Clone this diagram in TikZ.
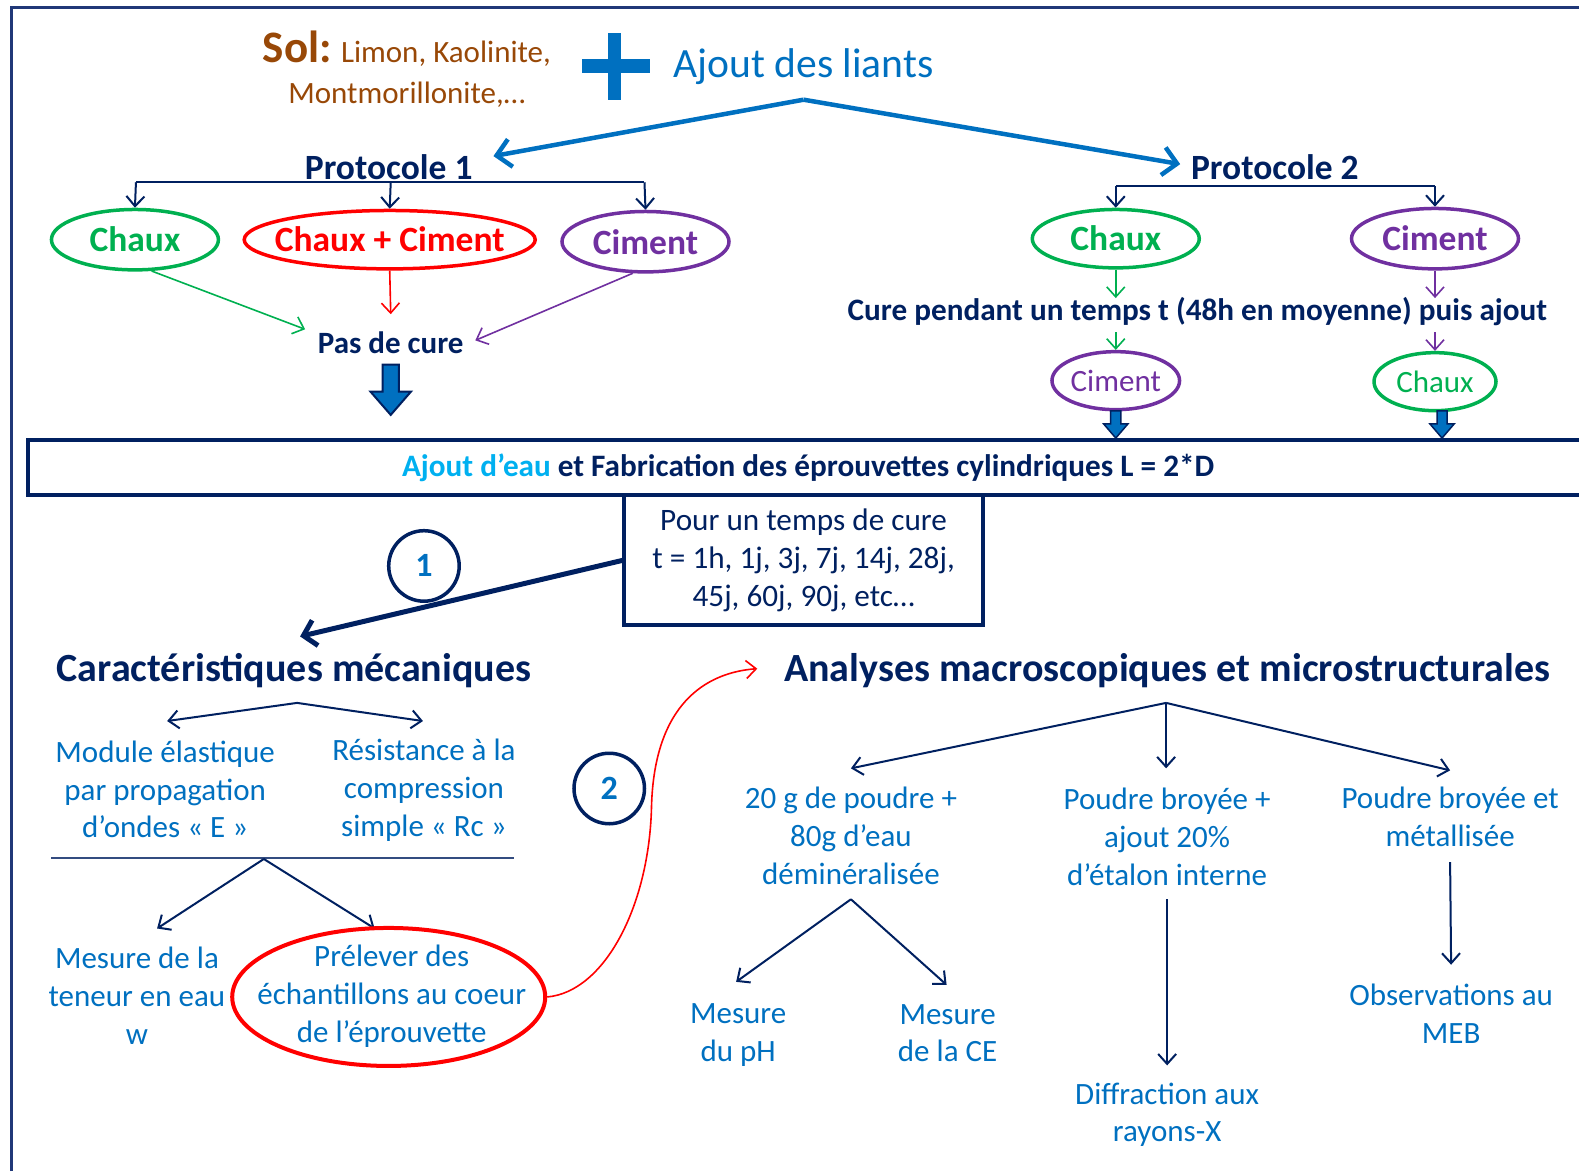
\documentclass[tikz,border=0pt]{standalone}
\usepackage{fontspec}
\setmainfont{Carlito}
\usetikzlibrary{arrows.meta,shapes.geometric}
\definecolor{navy}{RGB}{0,32,96}
\definecolor{bleu}{RGB}{0,112,192}
\definecolor{cyanb}{RGB}{0,176,240}
\definecolor{vert}{RGB}{0,176,80}
\definecolor{violet}{RGB}{112,48,160}
\definecolor{rouge}{RGB}{255,0,0}
\definecolor{brun}{RGB}{152,72,7}
\definecolor{cadre}{RGB}{32,56,120}
\begin{document}
\begin{tikzpicture}[x=1.00702pt,y=-1.00702pt,
  body/.style={font=\fontsize{31}{37.8}\selectfont, text=bleu, align=center, inner sep=0pt},
  titre/.style={font=\bfseries\fontsize{40}{46}\selectfont, text=navy, inner sep=0pt},
  proto/.style={font=\bfseries\fontsize{35.5}{40}\selectfont, text=navy, inner sep=0pt},
  ell/.style={ellipse, line width=3.5pt, inner sep=0pt},
  bigell/.style={ell, font=\bfseries\fontsize{35.5}{40}\selectfont},
  smallell/.style={ell, font=\fontsize{31}{36}\selectfont, minimum width=122pt, minimum height=58pt},
  tip/.style={-{Straight Barb[length=10pt,width=18pt]}},
  conn/.style={draw=navy, line width=2pt, tip},
  thinconn/.style={line width=1.6pt, tip},
  bluearrow/.style={draw=bleu, line width=4.5pt, -{Straight Barb[length=14pt,width=28pt]}},
  blockarrow/.style={fill=bleu, draw=navy, line width=2pt, line join=miter},
  numcircle/.style={circle, draw=navy, line width=3.5pt, minimum size=70.5pt, inner sep=0pt, text=bleu, font=\bfseries\fontsize{34}{34}\selectfont}
]
\useasboundingbox (0,0) rectangle (1568,1163);
% frame
\draw[cadre, line width=3pt] (11,1163) -- (11,7) -- (1568,7);

% top
\node[inner sep=0pt, anchor=base, text=brun] (sol) at (404,62) {{\bfseries\fontsize{45}{45}\selectfont Sol:}\fontsize{31}{36}\selectfont{} Limon, Kaolinite,};
\node[inner sep=0pt, anchor=base, text=brun, font=\fontsize{31}{36}\selectfont] (mont) at (404,103) {Montmorillonite,…};
\fill[bleu] (604,33) rectangle (617,99);
\fill[bleu] (578,59) rectangle (645,72);
\coordinate (plus) at (610,66);
\node[inner sep=0pt, text=bleu, font=\fontsize{41.6}{48}\selectfont] (liants) at (798,66) {Ajout des liants};
\coordinate (apex) at (798,99);

\node[proto] (p1) at (386,166) {Protocole 1};
\node[proto] (p2) at (1266,166) {Protocole 2};
\coordinate (p1tip) at (490,155);
\coordinate (p2tip) at (1172,163);
\draw[bluearrow] (apex) -- (p1tip);
\draw[bluearrow] (apex) -- (p2tip);

% protocole 1
\node[bigell, draw=vert, text=vert, minimum width=167pt, minimum height=60.4pt] (c1) at (134,238) {Chaux};
\node[ell, draw=rouge, minimum width=291pt, minimum height=58.4pt,
  label={[inner sep=0pt, text=rouge, font=\bfseries\fontsize{35.5}{40}\selectfont]center:Chaux + Ciment}] (cc1) at (387,238) {};
\node[bigell, draw=violet, text=violet, minimum width=167pt, minimum height=60.4pt] (ci1) at (641,240) {Ciment};
\coordinate (b1l) at (135,181);
\coordinate (b1m) at (388,181);
\coordinate (b1r) at (640,181);
\draw[navy, line width=2pt] (b1l) -- (b1r);
\draw[conn] (b1l) -- (c1.north);
\draw[conn] (b1m) -- (cc1.north);
\draw[conn] (b1r) -- (ci1.north);

\node[inner sep=0pt, text=navy, font=\bfseries\fontsize{31}{36}\selectfont] (pas) at (388,340) {Pas de cure};
\coordinate (pasl) at (303,327);
\coordinate (pasm) at (388,312);
\coordinate (pasr) at (472,338);
\draw[thinconn, vert] (c1.-62) -- (pasl);
\draw[thinconn, rouge] (cc1.south) -- (pasm);
\draw[thinconn, violet] (ci1.-112) -- (pasr);
\coordinate (ba1) at (388,362);
\draw[blockarrow] (ba1) ++(-8,0) -- ++(16,0) -- ++(0,27) -- ++(12,0) -- ++(-20,23) -- ++(-20,-23) -- ++(12,0) -- cycle;

% protocole 2
\node[bigell, draw=vert, text=vert, minimum width=167pt, minimum height=58.4pt] (c2) at (1108,237) {Chaux};
\node[bigell, draw=violet, text=violet, minimum width=167pt, minimum height=60.4pt] (ci2) at (1425,237) {Ciment};
\coordinate (b2l) at (1108,185);
\coordinate (b2r) at (1425,185);
\draw[navy, line width=2pt] (b2l) -- (b2r);
\draw[conn] (b2l) -- (c2.north);
\draw[conn] (b2r) -- (ci2.north);
\node[inner sep=0pt, text=navy, font=\bfseries\fontsize{31.2}{36}\selectfont] (cure) at (1189,309) {Cure pendant un temps t (48h en moyenne) puis ajout};
\coordinate (cu1a) at (1108,296);
\coordinate (cu2a) at (1425,296);
\coordinate (cu1b) at (1108,330);
\coordinate (cu2b) at (1425,330);
\node[smallell, draw=violet, text=violet] (ci3) at (1108,378) {Ciment};
\node[smallell, draw=vert, text=vert] (c3) at (1425,379) {Chaux};
\draw[thinconn, vert] (c2.south) -- (cu1a);
\draw[thinconn, violet] (ci2.south) -- (cu2a);
\draw[thinconn, vert] (cu1b) -- (ci3.north);
\draw[thinconn, violet] (cu2b) -- (c3.north);
\coordinate (ba2) at (1108,408);
\coordinate (ba3) at (1432,408);
\draw[blockarrow, line width=1.5pt] (ba2) ++(-5,0) -- ++(10,0) -- ++(0,13) -- ++(7,0) -- ++(-12,14) -- ++(-12,-14) -- ++(7,0) -- cycle;
\draw[blockarrow, line width=1.5pt] (ba3) ++(-5,0) -- ++(10,0) -- ++(0,13) -- ++(7,0) -- ++(-12,14) -- ++(-12,-14) -- ++(7,0) -- cycle;

% wide box
\node[draw=navy, line width=4pt, minimum width=1560pt, minimum height=55.4pt, inner sep=0pt, font=\bfseries\fontsize{31.2}{36}\selectfont, text=navy] (fab) at (802.5,464.5) {\textcolor{cyanb}{Ajout d’eau} et Fabrication des éprouvettes cylindriques L = 2*D};
\node[draw=navy, line width=4pt, minimum width=358.5pt, minimum height=130pt, inner sep=0pt, align=center, text=navy, font=\fontsize{31.2}{37.8}\selectfont] (tc) at (798,556.5) {Pour un temps de cure\\t = 1h, 1j, 3j, 7j, 14j, 28j,\\45j, 60j, 90j, etc…};

\node[numcircle] (n1) at (421,562) {1};
\coordinate (meca) at (298,632);
\draw[navy, line width=5pt, -{Straight Barb[length=12pt,width=26pt]}] (tc.west) -- (meca);

% left branch
\node[titre] (car) at (292,666) {Caractéristiques mécaniques};
\coordinate (capex) at (295,698);
\coordinate (mle) at (166,716);
\coordinate (mre) at (420,716);
\draw[conn] (capex) -- (mle);
\draw[conn] (capex) -- (mre);
\node[body] (mod) at (164,784) {Module élastique\\par propagation\\d’ondes « E »};
\node[body] (res) at (421,785) {Résistance à la\\compression\\simple « Rc »};
\coordinate (hl) at (51,852);
\coordinate (hr) at (510,852);
\draw[navy!80!white, line width=2pt] (hl) -- (hr);
\coordinate (hapex) at (262,853);
\coordinate (wend) at (156,922);
\coordinate (pend) at (372,922);
\draw[conn] (hapex) -- (wend);
\draw[conn] (hapex) -- (pend);
\node[body] (w) at (136,989) {Mesure de la\\teneur en eau\\w};
\node[ell, draw=rouge, line width=4pt, minimum width=313pt, minimum height=138pt] (prel) at (386,990) {};
\node[body] (preltxt) at (389,989) {Prélever des\\échantillons au coeur\\de l’éprouvette};
\node[numcircle] (n2) at (605,783) {2};

% right branch
\node[titre] (ana) at (1159,666) {Analyses macroscopiques et microstructurales};
\coordinate (anatip) at (752,664);
\draw[rouge, line width=1.6pt, tip] (prel.east) .. controls (600,985) and (645,900) .. (647,800) .. controls (650,700) and (700,668) .. (anatip);
\coordinate (aapex) at (1158,698);
\coordinate (a1) at (845,763);
\coordinate (a2) at (1158,763);
\coordinate (a3) at (1440,765);
\draw[conn] (aapex) -- (a1);
\draw[conn] (aapex) -- (a2);
\draw[conn] (aapex) -- (a3);
\node[body] (poudre) at (845,830) {20 g de poudre +\\80g d’eau\\déminéralisée};
\node[body] (broy) at (1159,831) {Poudre broyée +\\ajout 20\%\\d’étalon interne};
\node[body] (met) at (1440,811) {Poudre broyée et\\métallisée};
\coordinate (pa) at (845,893);
\coordinate (ph) at (731,975);
\coordinate (ce) at (940,978);
\draw[conn] (pa) -- (ph);
\draw[conn] (pa) -- (ce);
\node[body] (phtxt) at (733,1028) {Mesure\\du pH};
\node[body] (cetxt) at (941,1026) {Mesure\\de la CE};
\coordinate (ba) at (1159,893);
\coordinate (bb) at (1159,1058);
\draw[conn] (ba) -- (bb);
\node[body] (drx) at (1159,1107) {Diffraction aux\\rayons-X};
\coordinate (ma) at (1440,856);
\coordinate (mb) at (1441,958);
\draw[conn] (ma) -- (mb);
\node[body] (meb) at (1441,1007) {Observations au\\MEB};
\end{tikzpicture}
\end{document}
